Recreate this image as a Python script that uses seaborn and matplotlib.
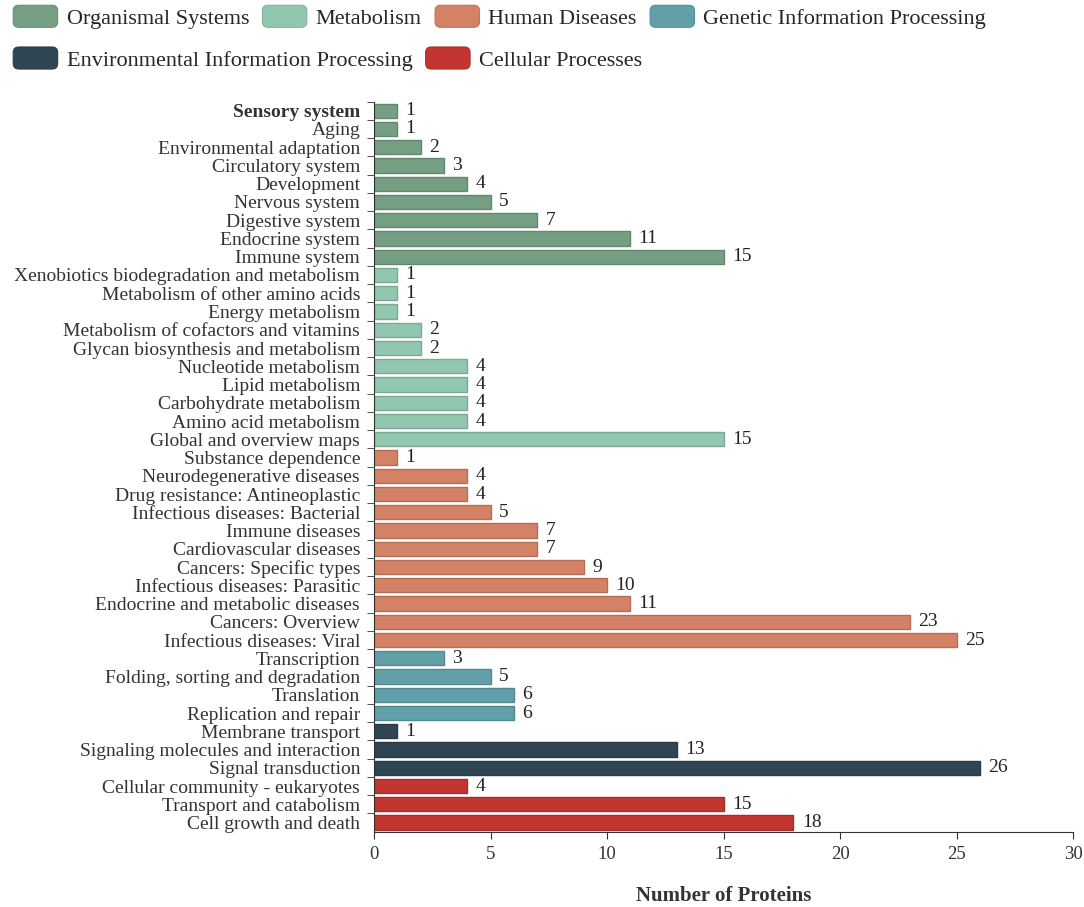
import pandas as pd
import seaborn as sns
import matplotlib.pyplot as plt
import matplotlib.colors as mcolors
from matplotlib.patches import Patch, FancyBboxPatch
from matplotlib.legend_handler import HandlerPatch

organismal = ['Sensory system', 'Aging', 'Environmental adaptation', 'Circulatory system',
              'Development', 'Nervous system', 'Digestive system', 'Endocrine system',
              'Immune system']
organismal_n = [1, 1, 2, 3, 4, 5, 7, 11, 15]

metabolism = ['Xenobiotics biodegradation and metabolism', 'Metabolism of other amino acids',
              'Energy metabolism', 'Metabolism of cofactors and vitamins',
              'Glycan biosynthesis and metabolism', 'Nucleotide metabolism', 'Lipid metabolism',
              'Carbohydrate metabolism', 'Amino acid metabolism', 'Global and overview maps']
metabolism_n = [1, 1, 1, 2, 2, 4, 4, 4, 4, 15]

diseases = ['Substance dependence', 'Neurodegenerative diseases', 'Drug resistance: Antineoplastic',
            'Infectious diseases: Bacterial', 'Immune diseases', 'Cardiovascular diseases',
            'Cancers: Specific types', 'Infectious diseases: Parasitic',
            'Endocrine and metabolic diseases', 'Cancers: Overview', 'Infectious diseases: Viral']
diseases_n = [1, 4, 4, 5, 7, 7, 9, 10, 11, 23, 25]

genetic = ['Transcription', 'Folding, sorting and degradation', 'Translation', 'Replication and repair']
genetic_n = [3, 5, 6, 6]

environmental = ['Membrane transport', 'Signaling molecules and interaction', 'Signal transduction']
environmental_n = [1, 13, 26]

cellular = ['Cellular community - eukaryotes', 'Transport and catabolism', 'Cell growth and death']
cellular_n = [4, 15, 18]

groups = ['Organismal Systems', 'Metabolism', 'Human Diseases', 'Genetic Information Processing',
          'Environmental Information Processing', 'Cellular Processes']
colors = ['#749f83', '#91c7ae', '#d48265', '#61a0a8', '#2f4554', '#c23531']

frames = []
for g, names, vals in zip(groups,
                          [organismal, metabolism, diseases, genetic, environmental, cellular],
                          [organismal_n, metabolism_n, diseases_n, genetic_n, environmental_n, cellular_n]):
    frames.append(pd.DataFrame({'pathway': names, 'count': vals, 'group': g}))
df = pd.concat(frames, ignore_index=True)

sns.set_style('ticks')
plt.rcParams['font.family'] = ['Liberation Serif', 'DejaVu Serif']

fig = plt.figure(figsize=(10.84, 9.07), dpi=100)
ax = fig.add_axes([0.345, 0.083, 0.645, 0.805])

palette = dict(zip(groups, colors))
sns.barplot(data=df, x='count', y='pathway', hue='group', palette=palette,
            dodge=False, width=0.78, legend=False, saturation=1, ax=ax)

def darker(c, f=0.85):
    r, g, b, a = mcolors.to_rgba(c)
    return (r * f, g * f, b * f, 1)

for p in ax.patches:
    p.set_edgecolor(darker(p.get_facecolor()))
    p.set_linewidth(1)

for cont in ax.containers:
    ax.bar_label(cont, padding=6, fontsize=14, color='#222222')

ax.set_xlim(0, 30)
ax.set_ylim(len(df) - 0.5, -0.5)
ax.set_xticks(range(0, 31, 5))
ax.tick_params(axis='x', labelsize=13.5, length=5, color='#333333', labelcolor='#333333', pad=5)
ax.tick_params(axis='y', which='major', length=0, labelsize=14, pad=10, labelcolor='#333333')
ax.set_yticks([i - 0.5 for i in range(len(df))], minor=True)
ax.tick_params(axis='y', which='minor', length=5, color='#333333')
for lbl in ax.get_yticklabels():
    if lbl.get_text() == 'Sensory system':
        lbl.set_fontweight('bold')
ax.set_ylabel('')
ax.set_xlabel('Number of Proteins', fontsize=15, fontweight='bold', color='#333333', va='center')
ax.xaxis.set_label_coords(0.5, -0.088)
sns.despine(ax=ax)
for s in ['left', 'bottom']:
    ax.spines[s].set_color('#333333')


class RoundHandler(HandlerPatch):
    def create_artists(self, legend, orig_handle, xdescent, ydescent, width, height, fontsize, trans):
        box = FancyBboxPatch((-xdescent, -ydescent), width, height,
                             boxstyle='round,pad=0,rounding_size=4',
                             facecolor=orig_handle.get_facecolor(),
                             edgecolor=darker(orig_handle.get_facecolor(), 0.9), lw=0.8,
                             transform=trans)
        return [box]


handles = [Patch(facecolor=c) for c in colors]
common = dict(frameon=False, fontsize=16, handlelength=2.0, handleheight=1.15,
              handletextpad=0.4, columnspacing=0.6, borderaxespad=0,
              handler_map={Patch: RoundHandler()})
fig.legend(handles[:4], groups[:4], loc='upper left', bbox_to_anchor=(0.004, 1.004), ncol=4, **common)
fig.legend(handles[4:], groups[4:], loc='upper left', bbox_to_anchor=(0.004, 0.958), ncol=2, **common)

fig.savefig('out.png', dpi=100)
